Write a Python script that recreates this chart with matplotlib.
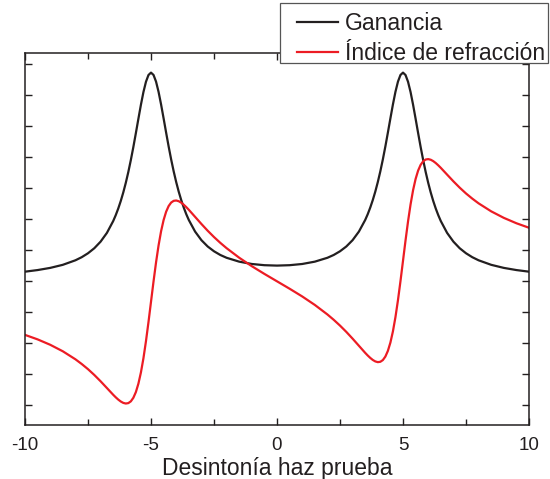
import matplotlib
matplotlib.use("Agg")
import matplotlib.pyplot as plt
from matplotlib.lines import Line2D
from matplotlib.patches import Rectangle

plt.rcParams['font.family'] = ['Liberation Sans', 'DejaVu Sans']

# desintonía del haz de prueba
detuning = [-10, -9.5, -9, -8.5, -8, -7.75, -7.5, -7.25, -7, -6.75,
            -6.5, -6.4, -6.3, -6.2, -6.1, -6.0, -5.9, -5.8, -5.7, -5.6,
            -5.5, -5.4, -5.3, -5.2, -5.1, -5.0, -4.9, -4.8, -4.7, -4.6,
            -4.5, -4.4, -4.3, -4.2, -4.1, -4.0, -3.9, -3.8, -3.7, -3.6,
            -3.5, -3.25, -3, -2.75, -2.5, -2.25, -2, -1.5, -1, -0.5,
            0, 0.5, 1, 1.5, 2, 2.25, 2.5, 2.75, 3, 3.25,
            3.5, 3.6, 3.7, 3.8, 3.9, 4.0, 4.1, 4.2, 4.3, 4.4,
            4.5, 4.6, 4.7, 4.8, 4.9, 5.0, 5.1, 5.2, 5.3, 5.4,
            5.5, 5.6, 5.7, 5.8, 5.9, 6.0, 6.1, 6.2, 6.3, 6.4,
            6.5, 6.75, 7, 7.25, 7.5, 7.75, 8, 8.5, 9, 9.5, 10]

# ganancia (unidades arbitrarias)
gain = [4.301, 4.353, 4.423, 4.522, 4.668, 4.768, 4.895, 5.057, 5.270, 5.552,
        5.934, 6.123, 6.337, 6.581, 6.857, 7.168, 7.516, 7.903, 8.324, 8.773,
        9.234, 9.686, 10.096, 10.427, 10.645, 10.722, 10.647, 10.432, 10.102, 9.695,
        9.246, 8.787, 8.340, 7.921, 7.537, 7.191, 6.882, 6.609, 6.368, 6.155,
        5.969, 5.594, 5.318, 5.113, 4.959, 4.840, 4.749, 4.624, 4.549, 4.510,
        4.497, 4.510, 4.549, 4.624, 4.749, 4.840, 4.959, 5.113, 5.318, 5.594,
        5.969, 6.155, 6.368, 6.609, 6.882, 7.191, 7.537, 7.921, 8.340, 8.787,
        9.246, 9.695, 10.102, 10.432, 10.647, 10.722, 10.645, 10.427, 10.096, 9.686,
        9.234, 8.773, 8.324, 7.903, 7.516, 7.168, 6.857, 6.581, 6.337, 6.123,
        5.934, 5.552, 5.270, 5.057, 4.895, 4.768, 4.668, 4.522, 4.423, 4.353, 4.301]

# índice de refracción (unidades arbitrarias)
refraction = [2.262, 2.117, 1.943, 1.733, 1.475, 1.323, 1.156, 0.969, 0.765, 0.548,
              0.330, 0.249, 0.175, 0.113, 0.068, 0.048, 0.061, 0.118, 0.233, 0.418,
              0.688, 1.050, 1.509, 2.057, 2.674, 3.329, 3.983, 4.600, 5.147, 5.605,
              5.966, 6.234, 6.418, 6.531, 6.586, 6.597, 6.574, 6.526, 6.460, 6.383,
              6.298, 6.069, 5.840, 5.621, 5.418, 5.231, 5.059, 4.751, 4.478, 4.229,
              3.990, 3.751, 3.502, 3.229, 2.921, 2.749, 2.562, 2.359, 2.140, 1.911,
              1.682, 1.597, 1.520, 1.454, 1.406, 1.383, 1.394, 1.449, 1.562, 1.746,
              2.014, 2.375, 2.833, 3.380, 3.997, 4.651, 5.306, 5.923, 6.471, 6.930,
              7.292, 7.562, 7.747, 7.862, 7.919, 7.932, 7.912, 7.867, 7.805, 7.731,
              7.650, 7.432, 7.215, 7.011, 6.824, 6.657, 6.505, 6.247, 6.037, 5.863, 5.718]

labels = ['Ganancia', 'Índice de refracción']
xticks = [-10, -5, 0, 5, 10]
xminor = [-7.5, -2.5, 2.5, 7.5]

ink = '#231f20'
red = '#ec1c24'

fig = plt.figure(figsize=(5.5, 4.79), dpi=100)
ax = fig.add_axes([25 / 550, 1 - 425 / 479, 504 / 550, 372 / 479])

ax.plot(detuning, gain, color=ink, lw=1.6)
ax.plot(detuning, refraction, color=red, lw=1.6)

ax.set_xlim(-10, 10)
ax.set_ylim(-0.645, 11.355)
ax.set_xticks(xticks)
ax.set_xticklabels([str(t) for t in xticks])
ax.set_xticks(xminor, minor=True)
ax.set_yticks(range(12))
ax.set_yticklabels([])

for s in ax.spines.values():
    s.set_color(ink)
    s.set_linewidth(1.1)
ax.tick_params(which='both', direction='in', top=True, right=True,
               color=ink, width=1.0, labelsize=13.5, labelcolor=ink, pad=8.7)
ax.tick_params(which='major', length=5)
ax.tick_params(which='minor', length=4)

ax.set_xlabel('Desintonía haz prueba', fontsize=16.5, color=ink, labelpad=2)

# caja de la leyenda (sobre el borde superior de los ejes)
box = Rectangle((280 / 550, 1 - 63 / 479), 268 / 550, 60 / 479,
                transform=fig.transFigure, facecolor='white',
                edgecolor='#555555', linewidth=0.9, zorder=1)
fig.patches.append(box)

handles = [Line2D([], [], color=ink, lw=1.6), Line2D([], [], color=red, lw=1.6)]
fig.legend(handles, labels, loc='upper left',
           bbox_to_anchor=(296.5 / 550, 1 - 12.5 / 479), frameon=False,
           borderpad=0, borderaxespad=0, fontsize=16.5,
           handlelength=1.83, handletextpad=0.29, labelspacing=0.28,
           labelcolor=ink)

fig.savefig('out.png', dpi=100)
